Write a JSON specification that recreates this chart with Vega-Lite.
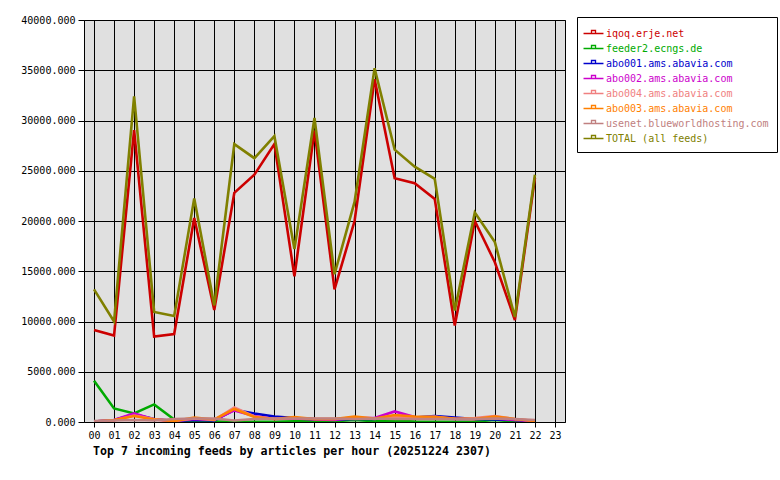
{
  "$schema": "https://vega.github.io/schema/vega-lite/v6.json",
  "width": 481,
  "height": 402,
  "autosize": {"type": "none"},
  "padding": {"left": 84, "top": 20, "right": 215, "bottom": 58},
  "background": "white",
  "title": {
    "text": "Top 7 incoming feeds by articles per hour (20251224 2307)",
    "orient": "bottom",
    "anchor": "start",
    "frame": "group",
    "dx": 9,
    "offset": 6,
    "font": "DejaVu Sans Mono",
    "fontSize": 11.6,
    "fontWeight": "bold",
    "color": "black"
  },
  "config": {
    "view": {"fill": "#e0e0e0", "stroke": "black", "strokeWidth": 1}
  },
  "data": {
    "values": [
      {"h":0,"s":"iqoq.erje.net","v":9150},{"h":1,"s":"iqoq.erje.net","v":8600},{"h":2,"s":"iqoq.erje.net","v":29050},{"h":3,"s":"iqoq.erje.net","v":8500},{"h":4,"s":"iqoq.erje.net","v":8750},{"h":5,"s":"iqoq.erje.net","v":20300},{"h":6,"s":"iqoq.erje.net","v":11150},{"h":7,"s":"iqoq.erje.net","v":22800},{"h":8,"s":"iqoq.erje.net","v":24600},{"h":9,"s":"iqoq.erje.net","v":27650},{"h":10,"s":"iqoq.erje.net","v":14500},{"h":11,"s":"iqoq.erje.net","v":29000},{"h":12,"s":"iqoq.erje.net","v":13200},{"h":13,"s":"iqoq.erje.net","v":20000},{"h":14,"s":"iqoq.erje.net","v":34100},{"h":15,"s":"iqoq.erje.net","v":24250},{"h":16,"s":"iqoq.erje.net","v":23750},{"h":17,"s":"iqoq.erje.net","v":22200},{"h":18,"s":"iqoq.erje.net","v":9600},{"h":19,"s":"iqoq.erje.net","v":20000},{"h":20,"s":"iqoq.erje.net","v":15900},{"h":21,"s":"iqoq.erje.net","v":10150},{"h":22,"s":"iqoq.erje.net","v":24300},
      {"h":0,"s":"feeder2.ecngs.de","v":4100},{"h":1,"s":"feeder2.ecngs.de","v":1350},{"h":2,"s":"feeder2.ecngs.de","v":850},{"h":3,"s":"feeder2.ecngs.de","v":1750},{"h":4,"s":"feeder2.ecngs.de","v":250},{"h":5,"s":"feeder2.ecngs.de","v":50},{"h":6,"s":"feeder2.ecngs.de","v":50},{"h":7,"s":"feeder2.ecngs.de","v":30},{"h":8,"s":"feeder2.ecngs.de","v":30},{"h":9,"s":"feeder2.ecngs.de","v":30},{"h":10,"s":"feeder2.ecngs.de","v":80},{"h":11,"s":"feeder2.ecngs.de","v":100},{"h":12,"s":"feeder2.ecngs.de","v":80},{"h":13,"s":"feeder2.ecngs.de","v":200},{"h":14,"s":"feeder2.ecngs.de","v":80},{"h":15,"s":"feeder2.ecngs.de","v":150},{"h":16,"s":"feeder2.ecngs.de","v":50},{"h":17,"s":"feeder2.ecngs.de","v":30},{"h":18,"s":"feeder2.ecngs.de","v":30},{"h":19,"s":"feeder2.ecngs.de","v":50},{"h":20,"s":"feeder2.ecngs.de","v":200},{"h":21,"s":"feeder2.ecngs.de","v":50},{"h":22,"s":"feeder2.ecngs.de","v":30},
      {"h":0,"s":"abo001.ams.abavia.com","v":50},{"h":1,"s":"abo001.ams.abavia.com","v":200},{"h":2,"s":"abo001.ams.abavia.com","v":750},{"h":3,"s":"abo001.ams.abavia.com","v":300},{"h":4,"s":"abo001.ams.abavia.com","v":100},{"h":5,"s":"abo001.ams.abavia.com","v":200},{"h":6,"s":"abo001.ams.abavia.com","v":150},{"h":7,"s":"abo001.ams.abavia.com","v":1200},{"h":8,"s":"abo001.ams.abavia.com","v":850},{"h":9,"s":"abo001.ams.abavia.com","v":550},{"h":10,"s":"abo001.ams.abavia.com","v":400},{"h":11,"s":"abo001.ams.abavia.com","v":300},{"h":12,"s":"abo001.ams.abavia.com","v":250},{"h":13,"s":"abo001.ams.abavia.com","v":300},{"h":14,"s":"abo001.ams.abavia.com","v":300},{"h":15,"s":"abo001.ams.abavia.com","v":500},{"h":16,"s":"abo001.ams.abavia.com","v":450},{"h":17,"s":"abo001.ams.abavia.com","v":600},{"h":18,"s":"abo001.ams.abavia.com","v":450},{"h":19,"s":"abo001.ams.abavia.com","v":300},{"h":20,"s":"abo001.ams.abavia.com","v":250},{"h":21,"s":"abo001.ams.abavia.com","v":200},{"h":22,"s":"abo001.ams.abavia.com","v":100},
      {"h":0,"s":"abo002.ams.abavia.com","v":50},{"h":1,"s":"abo002.ams.abavia.com","v":200},{"h":2,"s":"abo002.ams.abavia.com","v":850},{"h":3,"s":"abo002.ams.abavia.com","v":250},{"h":4,"s":"abo002.ams.abavia.com","v":100},{"h":5,"s":"abo002.ams.abavia.com","v":300},{"h":6,"s":"abo002.ams.abavia.com","v":200},{"h":7,"s":"abo002.ams.abavia.com","v":1150},{"h":8,"s":"abo002.ams.abavia.com","v":600},{"h":9,"s":"abo002.ams.abavia.com","v":300},{"h":10,"s":"abo002.ams.abavia.com","v":350},{"h":11,"s":"abo002.ams.abavia.com","v":250},{"h":12,"s":"abo002.ams.abavia.com","v":200},{"h":13,"s":"abo002.ams.abavia.com","v":400},{"h":14,"s":"abo002.ams.abavia.com","v":400},{"h":15,"s":"abo002.ams.abavia.com","v":1050},{"h":16,"s":"abo002.ams.abavia.com","v":500},{"h":17,"s":"abo002.ams.abavia.com","v":400},{"h":18,"s":"abo002.ams.abavia.com","v":300},{"h":19,"s":"abo002.ams.abavia.com","v":300},{"h":20,"s":"abo002.ams.abavia.com","v":350},{"h":21,"s":"abo002.ams.abavia.com","v":200},{"h":22,"s":"abo002.ams.abavia.com","v":100},
      {"h":0,"s":"abo004.ams.abavia.com","v":50},{"h":1,"s":"abo004.ams.abavia.com","v":150},{"h":2,"s":"abo004.ams.abavia.com","v":650},{"h":3,"s":"abo004.ams.abavia.com","v":300},{"h":4,"s":"abo004.ams.abavia.com","v":100},{"h":5,"s":"abo004.ams.abavia.com","v":350},{"h":6,"s":"abo004.ams.abavia.com","v":200},{"h":7,"s":"abo004.ams.abavia.com","v":1450},{"h":8,"s":"abo004.ams.abavia.com","v":550},{"h":9,"s":"abo004.ams.abavia.com","v":300},{"h":10,"s":"abo004.ams.abavia.com","v":400},{"h":11,"s":"abo004.ams.abavia.com","v":300},{"h":12,"s":"abo004.ams.abavia.com","v":300},{"h":13,"s":"abo004.ams.abavia.com","v":450},{"h":14,"s":"abo004.ams.abavia.com","v":300},{"h":15,"s":"abo004.ams.abavia.com","v":550},{"h":16,"s":"abo004.ams.abavia.com","v":450},{"h":17,"s":"abo004.ams.abavia.com","v":550},{"h":18,"s":"abo004.ams.abavia.com","v":300},{"h":19,"s":"abo004.ams.abavia.com","v":400},{"h":20,"s":"abo004.ams.abavia.com","v":600},{"h":21,"s":"abo004.ams.abavia.com","v":300},{"h":22,"s":"abo004.ams.abavia.com","v":100},
      {"h":0,"s":"abo003.ams.abavia.com","v":50},{"h":1,"s":"abo003.ams.abavia.com","v":200},{"h":2,"s":"abo003.ams.abavia.com","v":600},{"h":3,"s":"abo003.ams.abavia.com","v":250},{"h":4,"s":"abo003.ams.abavia.com","v":100},{"h":5,"s":"abo003.ams.abavia.com","v":450},{"h":6,"s":"abo003.ams.abavia.com","v":250},{"h":7,"s":"abo003.ams.abavia.com","v":1300},{"h":8,"s":"abo003.ams.abavia.com","v":500},{"h":9,"s":"abo003.ams.abavia.com","v":300},{"h":10,"s":"abo003.ams.abavia.com","v":500},{"h":11,"s":"abo003.ams.abavia.com","v":300},{"h":12,"s":"abo003.ams.abavia.com","v":300},{"h":13,"s":"abo003.ams.abavia.com","v":550},{"h":14,"s":"abo003.ams.abavia.com","v":350},{"h":15,"s":"abo003.ams.abavia.com","v":700},{"h":16,"s":"abo003.ams.abavia.com","v":550},{"h":17,"s":"abo003.ams.abavia.com","v":500},{"h":18,"s":"abo003.ams.abavia.com","v":350},{"h":19,"s":"abo003.ams.abavia.com","v":300},{"h":20,"s":"abo003.ams.abavia.com","v":550},{"h":21,"s":"abo003.ams.abavia.com","v":300},{"h":22,"s":"abo003.ams.abavia.com","v":100},
      {"h":0,"s":"usenet.blueworldhosting.com","v":100},{"h":1,"s":"usenet.blueworldhosting.com","v":150},{"h":2,"s":"usenet.blueworldhosting.com","v":200},{"h":3,"s":"usenet.blueworldhosting.com","v":150},{"h":4,"s":"usenet.blueworldhosting.com","v":300},{"h":5,"s":"usenet.blueworldhosting.com","v":350},{"h":6,"s":"usenet.blueworldhosting.com","v":350},{"h":7,"s":"usenet.blueworldhosting.com","v":150},{"h":8,"s":"usenet.blueworldhosting.com","v":300},{"h":9,"s":"usenet.blueworldhosting.com","v":350},{"h":10,"s":"usenet.blueworldhosting.com","v":350},{"h":11,"s":"usenet.blueworldhosting.com","v":350},{"h":12,"s":"usenet.blueworldhosting.com","v":350},{"h":13,"s":"usenet.blueworldhosting.com","v":300},{"h":14,"s":"usenet.blueworldhosting.com","v":350},{"h":15,"s":"usenet.blueworldhosting.com","v":300},{"h":16,"s":"usenet.blueworldhosting.com","v":300},{"h":17,"s":"usenet.blueworldhosting.com","v":300},{"h":18,"s":"usenet.blueworldhosting.com","v":300},{"h":19,"s":"usenet.blueworldhosting.com","v":300},{"h":20,"s":"usenet.blueworldhosting.com","v":350},{"h":21,"s":"usenet.blueworldhosting.com","v":300},{"h":22,"s":"usenet.blueworldhosting.com","v":200},
      {"h":0,"s":"TOTAL (all feeds)","v":13200},{"h":1,"s":"TOTAL (all feeds)","v":10000},{"h":2,"s":"TOTAL (all feeds)","v":32400},{"h":3,"s":"TOTAL (all feeds)","v":10950},{"h":4,"s":"TOTAL (all feeds)","v":10550},{"h":5,"s":"TOTAL (all feeds)","v":22250},{"h":6,"s":"TOTAL (all feeds)","v":11600},{"h":7,"s":"TOTAL (all feeds)","v":27650},{"h":8,"s":"TOTAL (all feeds)","v":26250},{"h":9,"s":"TOTAL (all feeds)","v":28450},{"h":10,"s":"TOTAL (all feeds)","v":17200},{"h":11,"s":"TOTAL (all feeds)","v":30250},{"h":12,"s":"TOTAL (all feeds)","v":14700},{"h":13,"s":"TOTAL (all feeds)","v":21900},{"h":14,"s":"TOTAL (all feeds)","v":35200},{"h":15,"s":"TOTAL (all feeds)","v":27100},{"h":16,"s":"TOTAL (all feeds)","v":25400},{"h":17,"s":"TOTAL (all feeds)","v":24200},{"h":18,"s":"TOTAL (all feeds)","v":11100},{"h":19,"s":"TOTAL (all feeds)","v":20850},{"h":20,"s":"TOTAL (all feeds)","v":17900},{"h":21,"s":"TOTAL (all feeds)","v":10450},{"h":22,"s":"TOTAL (all feeds)","v":24600}
    ]
  },
  "mark": {"type": "line", "strokeWidth": 2.6, "clip": true},
  "encoding": {
    "x": {
      "field": "h",
      "type": "quantitative",
      "scale": {"domain": [-0.5, 23.5], "nice": false, "zero": false},
      "axis": {
        "values": [0,1,2,3,4,5,6,7,8,9,10,11,12,13,14,15,16,17,18,19,20,21,22,23],
        "format": "02d",
        "title": null,
        "grid": true,
        "gridColor": "black",
        "gridOpacity": 1,
        "gridWidth": 1,
        "domain": false,
        "tickColor": "black",
        "tickSize": 5,
        "labelFont": "DejaVu Sans Mono",
        "labelFontSize": 10,
        "labelColor": "black",
        "labelPadding": 3,
        "labelFlush": false,
        "labelOverlap": false
      }
    },
    "y": {
      "field": "v",
      "type": "quantitative",
      "scale": {"domain": [0, 40000], "nice": false},
      "axis": {
        "values": [0,5000,10000,15000,20000,25000,30000,35000,40000],
        "format": ".3f",
        "title": null,
        "grid": true,
        "gridColor": "black",
        "gridOpacity": 1,
        "gridWidth": 1,
        "domain": false,
        "tickColor": "black",
        "tickSize": 6,
        "labelFont": "DejaVu Sans Mono",
        "labelFontSize": 10,
        "labelColor": "black",
        "labelPadding": 3,
        "labelFlush": false,
        "labelOverlap": false
      }
    },
    "color": {
      "field": "s",
      "type": "nominal",
      "scale": {
        "domain": ["iqoq.erje.net","feeder2.ecngs.de","abo001.ams.abavia.com","abo002.ams.abavia.com","abo004.ams.abavia.com","abo003.ams.abavia.com","usenet.blueworldhosting.com","TOTAL (all feeds)"],
        "range": ["#cc0000","#00aa00","#0000cc","#cc00cc","#f08080","#ff8000","#c08080","#808000"]
      },
      "legend": {
        "title": null,
        "orient": "none",
        "legendX": 493,
        "legendY": -3,
        "fillColor": "white",
        "strokeColor": "black",
        "padding": 8,
        "rowPadding": 1,
        "symbolType": "M-1.33,0H1.33M-0.27,0V-0.4H0.27V0",
        "symbolSize": 225,
        "symbolStrokeWidth": 1.3,
        "symbolFillColor": "transparent",
        "labelFont": "DejaVu Sans Mono",
        "labelFontSize": 10,
        "labelOffset": 4,
        "labelLimit": 300,
        "encode": {
          "labels": {"update": {"fill": {"scale": "color", "field": "value"}}}
        }
      }
    }
  }
}
